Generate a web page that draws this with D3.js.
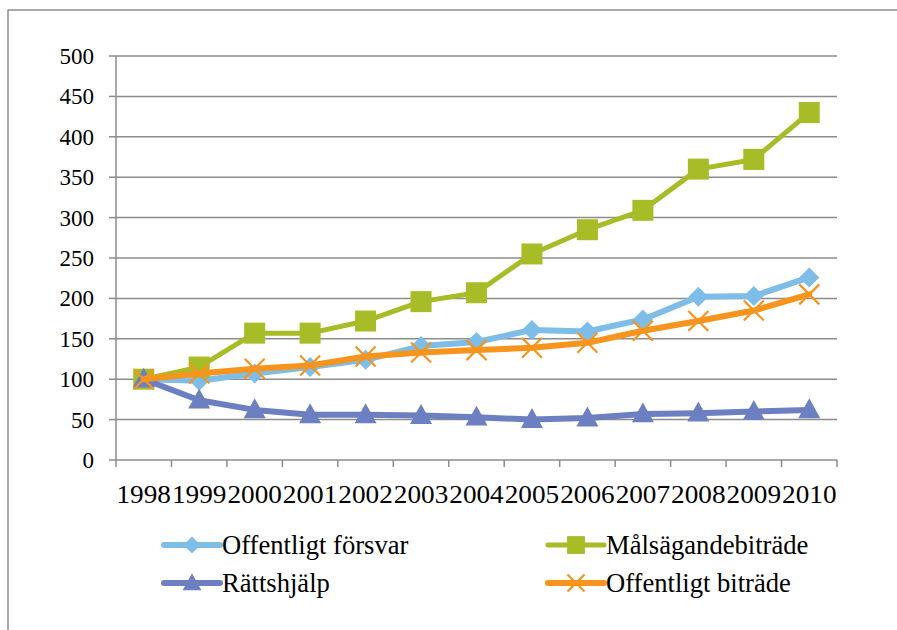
<!DOCTYPE html>
<html><head><meta charset="utf-8">
<script src="https://cdn.jsdelivr.net/npm/d3@7"></script>
</head><body>
<script>
const years = ["1998","1999","2000","2001","2002","2003","2004","2005","2006","2007","2008","2009","2010"];
const yTicks = [0,50,100,150,200,250,300,350,400,450,500];
const offentligtForsvar = [100,98,107,115,124,141,146,161,159,174,202,203,226];
const malsagandebitrade = [100,115,157,157,172,196,207,255,285,309,360,372,430];
const rattshjalp = [100,74,62,56,56,55,53,50,52,57,58,60,62];
const offentligtBitrade = [100,107,113,117,128,133,136,139,145,160,172,185,205];
const seriesNames = ["Offentligt försvar","Målsägandebiträde","Rättshjälp","Offentligt biträde"];

const series = [
  {name:seriesNames[0], values:offentligtForsvar, color:"#7dbde8", marker:"diamond", lw:6},
  {name:seriesNames[1], values:malsagandebitrade, color:"#a8bc27", marker:"square", lw:5},
  {name:seriesNames[2], values:rattshjalp, color:"#6c7fc0", marker:"triangle", lw:6},
  {name:seriesNames[3], values:offentligtBitrade, color:"#f7941d", marker:"x", lw:6}
];

const W=897,H=630;
const FONT="'Liberation Serif'";
d3.select("body").style("margin","0px");
const svg=d3.select("body").append("svg").attr("width",W).attr("height",H);
svg.append("rect").attr("x",8).attr("y",10).attr("width",W).attr("height",H)
  .attr("fill","#fff").attr("stroke","#8c8c8c").attr("stroke-width",1.5);

const x=d3.scaleBand().domain(years).range([116,837]).padding(0);
const y=d3.scaleLinear().domain([0,500]).range([460,56]);

svg.append("g").selectAll("line").data(yTicks.filter(d=>d>0)).join("line")
  .attr("x1",116).attr("x2",837).attr("y1",d=>y(d)).attr("y2",d=>y(d))
  .attr("stroke","#8c8c8c").attr("stroke-width",1.5);

const gy=svg.append("g");
gy.append("line").attr("x1",116).attr("x2",116).attr("y1",y(500)).attr("y2",y(0))
  .attr("stroke","#8c8c8c").attr("stroke-width",1.5);
gy.selectAll("line.t").data(yTicks).join("line").attr("class","t")
  .attr("x1",109).attr("x2",116).attr("y1",d=>y(d)).attr("y2",d=>y(d))
  .attr("stroke","#8c8c8c").attr("stroke-width",1.5);
gy.selectAll("text").data(yTicks).join("text")
  .attr("x",94).attr("y",d=>y(d)+8).attr("text-anchor","end")
  .style("font-family",FONT).attr("font-size",23).text(d=>d);

const gx=svg.append("g").attr("transform","translate(0,460)");
gx.append("line").attr("x1",116).attr("x2",837).attr("stroke","#8c8c8c").attr("stroke-width",1.5);
const edges=years.map(d=>x(d)).concat([x.range()[1]]);
gx.selectAll("line.t").data(edges).join("line").attr("class","t")
  .attr("x1",d=>d).attr("x2",d=>d).attr("y1",0).attr("y2",7)
  .attr("stroke","#8c8c8c").attr("stroke-width",1.5);
gx.selectAll("text").data(years).join("text")
  .attr("x",d=>x(d)+x.bandwidth()/2).attr("y",43)
  .attr("text-anchor","middle").style("font-family",FONT).attr("font-size",25)
  .attr("textLength",x.bandwidth()-1).attr("lengthAdjust","spacingAndGlyphs")
  .text(d=>d);

function drawMarker(g,type,color,s){
  if(type==="diamond"){
    g.append("path").attr("d",`M0,${-s}L${s},0L0,${s}L${-s},0Z`).attr("fill",color);
  } else if(type==="square"){
    g.append("rect").attr("x",-s).attr("y",-s).attr("width",2*s).attr("height",2*s).attr("fill",color);
  } else if(type==="triangle"){
    g.append("path").attr("d",`M0,${-s*1.1}L${s*1.05},${s*0.8}L${-s*1.05},${s*0.8}Z`).attr("fill",color);
  } else {
    g.append("path").attr("d",`M${-s},${-s}L${s},${s}M${-s},${s}L${s},${-s}`).attr("stroke",color).attr("stroke-width",2.2).attr("fill","none");
  }
}
const msize={diamond:10,square:10.5,triangle:10.5,x:10};

const line=d3.line().x((d,i)=>x(years[i])+x.bandwidth()/2).y(d=>y(d));
series.forEach(s=>{
  const g=svg.append("g");
  g.append("path").attr("d",line(s.values)).attr("fill","none")
    .attr("stroke",s.color).attr("stroke-width",s.lw).attr("stroke-linejoin","round").attr("stroke-linecap","round");
  s.values.forEach((v,i)=>{
    const m=g.append("g").attr("transform",`translate(${x(years[i])+x.bandwidth()/2},${y(v)})`);
    drawMarker(m,s.marker,s.color,msize[s.marker]);
  });
});

const legPos=[[164,545],[548,545],[164,583],[548,583]];
series.forEach((s,i)=>{
  const [lx,ly]=legPos[i];
  const g=svg.append("g").attr("transform",`translate(${lx},${ly})`);
  g.append("line").attr("x1",0).attr("x2",56).attr("stroke",s.color).attr("stroke-width",s.lw).attr("stroke-linecap","round");
  const m=g.append("g").attr("transform","translate(28,0)");
  drawMarker(m,s.marker,s.color,msize[s.marker]*0.85);
  g.append("text").attr("x",58).attr("y",9)
    .style("font-family",FONT).attr("font-size",26.6).text(s.name);
});
</script>
</body></html>
